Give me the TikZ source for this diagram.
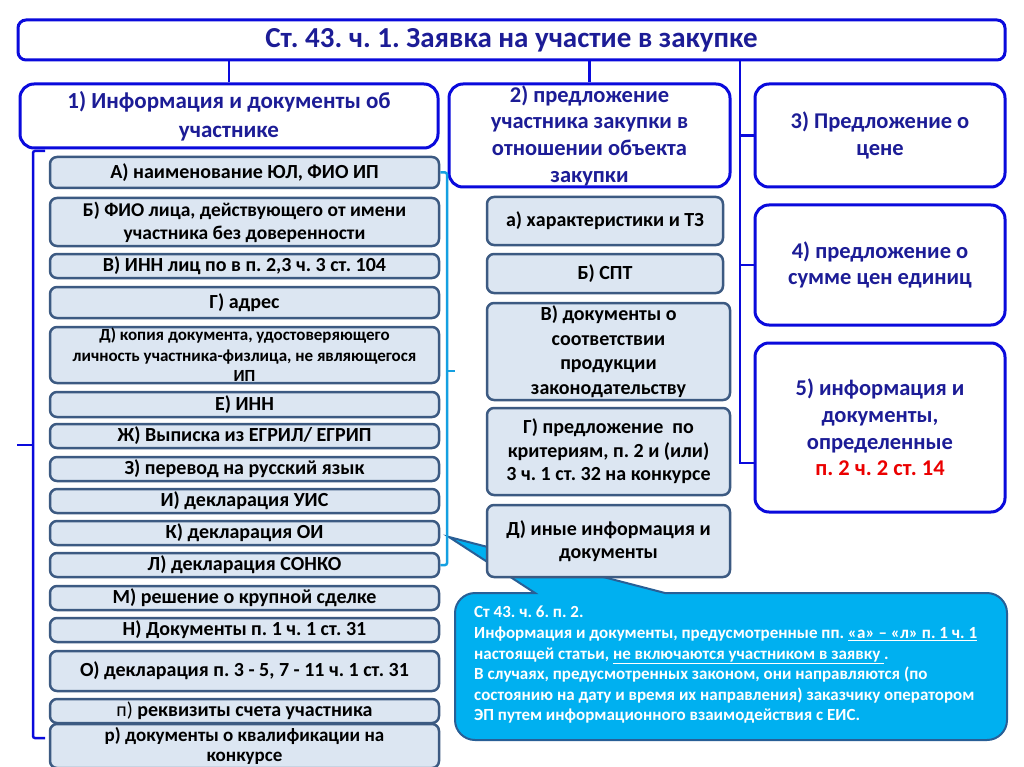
\documentclass[tikz,border=0pt]{standalone}
\usepackage{fontspec}
\setmainfont{Carlito}
\frenchspacing

\definecolor{lineblue}{RGB}{10,10,220}
\definecolor{navy}{RGB}{28,28,150}
\definecolor{itemfill}{RGB}{220,230,242}
\definecolor{itemedge}{RGB}{60,90,130}
\definecolor{bracecyan}{RGB}{20,160,225}
\definecolor{notefill}{RGB}{0,176,240}
\definecolor{noteedge}{RGB}{40,95,150}
\definecolor{redref}{RGB}{235,0,0}

\begin{document}
\begin{tikzpicture}[x=1pt,y=-1pt,
    headline/.style={draw=lineblue,line width=3pt,rounded corners=8pt,fill=white,inner sep=0pt,
      minimum width=987,minimum height=40,text=navy,font=\bfseries\fontsize{29}{32}\selectfont},
    headbox/.style={draw=lineblue,line width=3pt,rounded corners=14pt,fill=white,align=center,
      inner sep=0pt,text=navy,font=\bfseries\fontsize{22.5}{26.7}\selectfont},
    itembox/.style={draw=itemedge,line width=2.5pt,fill=itemfill,rounded corners=7pt,align=center,
      inner sep=0pt,font=\bfseries\fontsize{20}{23}\selectfont},
    leftitem/.style={itembox,minimum width=389},
    tree/.style={draw=lineblue,line width=2.5pt},
    bracket/.style={draw=lineblue,line width=2.5pt,rounded corners=2pt},
    cbracket/.style={draw=bracecyan,line width=2.5pt,rounded corners=2pt},
    notetext/.style={text=white,align=left,inner sep=0pt,anchor=north west,
      font=\bfseries\fontsize{17}{20.6}\selectfont}]
  \path[use as bounding box,fill=white] (0,0) rectangle (1024,767);

  % header and the five parts
  \node[headline] (head) at (511.5,40) {Ст. 43. ч. 1. Заявка на участие в закупке};
  \node[headbox,minimum width=418,minimum height=64,font=\bfseries\fontsize{23}{29}\selectfont]
    (part1) at (229,116) {1) Информация и документы об\\участнике};
  \node[headbox,minimum width=281,minimum height=103] (part2) at (589.5,135.5)
    {2) предложение\\участника закупки в\\отношении объекта\\закупки};
  \node[headbox,minimum width=250,minimum height=103] (part3) at (880,135.5) {3) Предложение о\\цене};
  \node[headbox,minimum width=250,minimum height=120] (part4) at (880,265) {4) предложение о\\сумме цен единиц};
  \node[headbox,minimum width=250,minimum height=169] (part5) at (880,427.5)
    {5) информация и\\документы,\\определенные\\\textcolor{redref}{п. 2 ч. 2 ст. 14}};

  \coordinate (trunk) at (740,463);
  \draw[tree] (part1.north) -- (part1.north |- head.south);
  \draw[tree] (part2.north) -- (part2.north |- head.south);
  \draw[tree] (trunk |- head.south) -- (trunk) -- (trunk -| part5.west);
  \draw[tree] (part3.west) -- (part3.west -| trunk);
  \draw[tree] (part4.west) -- (part4.west -| trunk);

  % note on items a-l
  \draw[fill=notefill,draw=noteedge,line width=2pt]
    (455,665) [rounded corners=20pt] -- (455,593) [sharp corners] -- (535,593) -- (449,537) -- (665,593)
    [rounded corners=20pt] -- (1007,593) -- (1007,740) -- (455,740) [sharp corners] -- cycle;
  \node[notetext] (note) at (474,606) {Ст 43. ч. 6. п. 2.\\
    Информация и документы, предусмотренные пп. \underline{«а» – «л» п. 1 ч. 1}\\
    настоящей статьи, \underline{не включаются участником в заявку\ }.\\
    В случаях, предусмотренных законом, они направляются (по\\
    состоянию на дату и время их направления) заказчику оператором\\
    ЭП путем информационного взаимодействия с ЕИС.};

  % items of part 1
  \node[leftitem,minimum height=31] (iA) at (244.5,172.5) {А) наименование ЮЛ, ФИО ИП};
  \node[leftitem,minimum height=48,font=\bfseries\fontsize{19.5}{23}\selectfont] (iB) at (244.5,222)
    {Б) ФИО лица, действующего от имени\\участника без доверенности};
  \node[leftitem,minimum height=24] (iV) at (244.5,266) {В) ИНН лиц по в п. 2,3 ч. 3 ст. 104};
  \node[leftitem,minimum height=31] (iG) at (244.5,302.5) {Г) адрес};
  \node[leftitem,minimum height=56,font=\bfseries\fontsize{17}{20.5}\selectfont] (iD) at (244.5,355)
    {Д) копия документа, удостоверяющего\\личность участника-физлица, не являющегося\\ИП};
  \node[leftitem,minimum height=25] (iE) at (244.5,404.5) {Е) ИНН};
  \node[leftitem,minimum height=24] (iZh) at (244.5,436) {Ж) Выписка из ЕГРИЛ/ ЕГРИП};
  \node[leftitem,minimum height=24] (iZ) at (244.5,469) {З) перевод на русский язык};
  \node[leftitem,minimum height=24] (iI) at (244.5,501) {И) декларация УИС};
  \node[leftitem,minimum height=24] (iK) at (244.5,533) {К) декларация ОИ};
  \node[leftitem,minimum height=24] (iL) at (244.5,565) {Л) декларация СОНКО};
  \node[leftitem,minimum height=24] (iM) at (244.5,598) {М) решение о крупной сделке};
  \node[leftitem,minimum height=24] (iN) at (244.5,630) {Н) Документы п. 1 ч. 1 ст. 31};
  \node[leftitem,minimum height=40] (iO) at (244.5,671) {О) декларация п. 3 - 5, 7 - 11 ч. 1 ст. 31};
  \node[leftitem,minimum height=24] (iP) at (244.5,711) {{\mdseries п)} реквизиты счета участника};
  \node[leftitem,minimum height=44,font=\bfseries\fontsize{19}{19.5}\selectfont] (iR) at (244.5,746)
    {р) документы о квалификации на\\конкурсе};

  % items of part 2
  \node[itembox,minimum width=236,minimum height=48] (ja) at (605,221) {а) характеристики и ТЗ};
  \node[itembox,minimum width=236,minimum height=39] (jb) at (605,273.5) {Б) СПТ};
  \node[itembox,minimum width=243,minimum height=97,font=\bfseries\fontsize{20}{24.5}\selectfont]
    (jv) at (608.5,351.5) {В) документы о\\соответствии\\продукции\\законодательству};
  \node[itembox,minimum width=243,minimum height=87,font=\bfseries\fontsize{20}{23.5}\selectfont]
    (jg) at (608.5,451.5) {Г) предложение\ \ по\\критериям, п. 2 и (или)\\3 ч. 1 ст. 32 на конкурсе};
  \node[itembox,minimum width=243,minimum height=72] (jd) at (608.5,541) {Д) иные информация и\\документы};

  % brackets
  \coordinate (lb) at (33,445);
  \draw[bracket] (45,151) -- (lb |- 0,151) -- (lb |- 0,738) -- (45,738);
  \draw[bracket] (lb) -- ++(-16,0);
  \coordinate (rb) at (447,371);
  \draw[cbracket] (iA.east) -- (iA.east -| rb) -- (iL.east -| rb) -- (iL.east);
  \draw[cbracket] (rb) -- ++(8,0);
\end{tikzpicture}
\end{document}
